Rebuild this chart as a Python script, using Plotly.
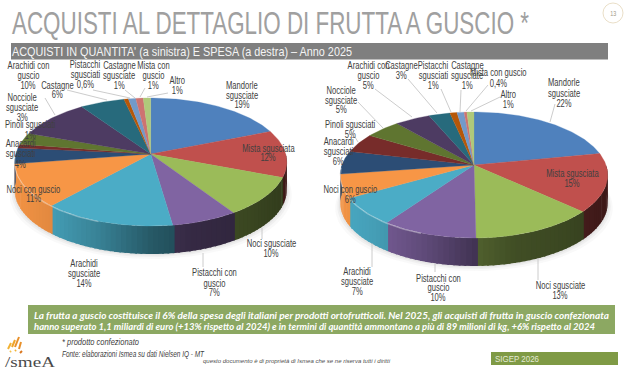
import json
import numpy as np
import plotly.graph_objects as go

# ---------- data ----------
categories = ["Mandorle sgusciate", "Mista sgusciata", "Noci sgusciate", "Pistacchi con guscio",
              "Arachidi sgusciate", "Noci con guscio", "Anacardi sgusciati", "Pinoli sgusciati",
              "Nocciole sgusciate", "Arachidi con guscio", "Castagne", "Pistacchi sgusciati",
              "Castagne sgusciate", "Mista con guscio", "Altro"]
quantita = [19, 12, 10, 7, 14, 11, 4, 1, 3, 10, 6, 0.6, 1, 1, 1]
spesa = [22, 15, 13, 10, 7, 6, 6, 5, 5, 5, 3, 1, 1, 0.4, 1]
quantita_labels = ["19%", "12%", "10%", "7%", "14%", "11%", "4%", "1%", "3%", "10%", "6%", "0,6%", "1%", "1%", "1%"]
spesa_labels = ["22%", "15%", "13%", "10%", "7%", "6%", "6%", "5%", "5%", "5%", "3%", "1%", "1%", "0,4%", "1%"]

# ---------- style / layout ----------
colors = ["#4F81BD", "#C0504D", "#9BBB59", "#8064A2", "#4BACC6", "#F79646", "#2C4D75", "#772C2A",
          "#5F7530", "#4D3B62", "#276A7C", "#B65708", "#729ACA", "#CD7371", "#AFC97A"]
NARROW = "Liberation Sans, Arial, sans-serif"
LBL = "#404040"

left_geo = dict(cx=150.7, cy=154, R=135, A=63, k=0.125, d=28)
right_geo = dict(cx=474, cy=165, R=132, A=61.4, k=0.159, d=28)

name_lines = [["Mandorle", "sgusciate"], ["Mista sgusciata"], ["Noci sgusciate"], ["Pistacchi con", "guscio"],
              ["Arachidi", "sgusciate"], ["Noci con guscio"], ["Anacardi", "sgusciati"], ["Pinoli sgusciati"],
              ["Nocciole", "sgusciate"], ["Arachidi con", "guscio"], ["Castagne"], ["Pistacchi", "sgusciati"],
              ["Castagne", "sgusciate"], ["Mista con", "guscio"], ["Altro"]]
right_name_lines = list(name_lines)
right_name_lines[13] = ["Mista con guscio"]

left_pos = [(242, [85, 95, 104]), (268, [148, 157]), (271, [243, 253]), (214, [272, 283, 292]),
            (84, [263, 273, 283]), (33, [189, 198]), (20, [143, 153, 164]), (30, [124, 135]),
            (22, [97, 107, 117]), (28, [65, 75, 85]), (57, [85, 94]), (85, [64, 74, 84]),
            (119, [65, 75, 85]), (153, [65, 75, 85]), (177, [80, 90])]
right_pos = [(564, [82, 93, 103]), (572, [173, 183]), (560, [285, 295]), (438, [278, 287, 297]),
             (357, [271, 281, 291]), (350, [189, 199]), (338, [141, 151, 161]), (350, [124, 134]),
             (341, [90, 100, 109]), (368, [65, 75, 85]), (401, [65, 75]), (433, [65, 75, 85]),
             (467, [65, 75, 85]), (498, [72, 83]), (508, [94, 104])]

left_leaders = [((45, 98), (55, 115)), ((67, 90), (107, 100)), ((93, 90), (130, 98)), ((125, 90), (135, 98)),
                ((145, 88), (140, 97)), ((168, 93), (147, 97)), ((262, 228), (262, 239)), ((203, 253), (203, 267))]
right_leaders = [((555, 104), (550, 122)), ((358, 102), (383, 128)), ((375, 89), (412, 117)), ((408, 79), (437, 113)),
                 ((441, 89), (451, 112)), ((461, 90), (460, 112)), ((488, 85), (466, 111)), ((500, 97), (471, 111)),
                 ((372, 243), (372, 267)), ((435, 264), (435, 272)), ((538, 258), (538, 280)), ((355, 137), (358, 142))]


def proj(theta_deg, g):
    t = np.radians(np.asarray(theta_deg, dtype=float))
    X, Y = np.sin(t), np.cos(t)
    w = 1 + g["k"] * Y
    return g["cx"] + g["R"] * X / w, g["cy"] - g["A"] * Y / w


def shade(hex_color, f):
    rgb = [int(hex_color[i:i + 2], 16) for i in (1, 3, 5)]
    return "rgb(%d,%d,%d)" % tuple(min(255, int(c * f)) for c in rgb)


fig = go.Figure()


def add_poly(xs, ys, color, opacity=1.0, lw=0.0):
    fig.add_trace(go.Scatter(x=list(xs), y=list(ys), mode="lines", fill="toself", fillcolor=color,
                             line=dict(color=color, width=lw), opacity=opacity, hoverinfo="skip", showlegend=False))


def add_pie(values, g):
    fr = np.array(values, dtype=float)
    edges = np.concatenate([[0], np.cumsum(fr) / fr.sum() * 360])
    th = np.linspace(0, 360, 121)
    for grow, op in [(5, 0.05), (3, 0.07), (1.5, 0.09)]:
        sx, sy = proj(th, g)
        add_poly(g["cx"] + (sx - g["cx"]) * (1 + grow / g["R"]), sy + g["d"] + grow, "#808080", op)
    # side wall: narrow strips, each overlapping the previous one to hide seams
    for i, c in enumerate(colors):
        a, b = max(edges[i], 90), min(edges[i + 1], 270)
        if b <= a:
            continue
        n = max(1, int((b - a) / 2))
        pts = np.linspace(a, b, n + 1)
        for p, q in zip(pts[:-1], pts[1:]):
            x, y = proj([p - 0.7, q], g)
            u = ((x[0] + x[1]) / 2 - g["cx"]) / g["R"]
            f = np.interp(u, [-1, -0.75, -0.4, 0, 0.3, 0.7, 1], [0.98, 0.92, 0.76, 0.52, 0.42, 0.38, 0.32])
            add_poly([x[0], x[1], x[1], x[0]], [y[0], y[1], y[1] + g["d"], y[0] + g["d"]], shade(c, f))
    for i, c in enumerate(colors):
        n = max(2, int(edges[i + 1] - edges[i]) + 1)
        x, y = proj(np.linspace(edges[i], edges[i + 1], n), g)
        add_poly([g["cx"], *x, g["cx"]], [g["cy"], *y, g["cy"]], c, 1.0, 0.3)
    x, y = proj(np.linspace(200, 268, 40), g)
    fig.add_trace(go.Scatter(x=x, y=y + 0.6, mode="lines", line=dict(color="rgba(255,255,255,0.35)", width=1.2),
                             hoverinfo="skip", showlegend=False))


add_pie(quantita, left_geo)
add_pie(spesa, right_geo)

ann = []
widths = {}


def text(x, y, s, size, color=LBL, family=NARROW, xanchor="center", width=None, **font):
    ann.append(dict(x=x, y=y, text=s, xref="x", yref="y", showarrow=False, xanchor=xanchor, align=xanchor,
                    yanchor="middle", font=dict(size=size, color=color, family=family, **font),
                    borderpad=0, borderwidth=0))
    if width:
        widths[s] = width


for lines, pcts, pos in [(name_lines, quantita_labels, left_pos), (right_name_lines, spesa_labels, right_pos)]:
    for nm, pc, (cx, ys) in zip(lines, pcts, pos):
        for s, y in zip(nm + [pc], ys):
            text(cx, y, s, 10)

GREEN1 = ("La frutta a guscio costituisce il 6% della spesa degli italiani per prodotti ortofrutticoli. "
          "Nel 2025, gli acquisti di frutta in guscio confezionata")
GREEN2 = ("hanno superato 1,1 miliardi di euro (+13% rispetto al 2024) e in termini di quantità ammontano "
          "a più di 89 milioni di kg, +6% rispetto al 2024")
text(12, 23, "ACQUISTI AL DETTAGLIO DI FRUTTA A GUSCIO *", 30.5, "#a0a0a0", xanchor="left", width=517)
text(12, 52, "ACQUISTI IN QUANTITA' (a sinistra) E SPESA (a destra) – Anno 2025", 12.6, "#f4f4f4", xanchor="left", width=340)
text(613, 13, "13", 7.5, "#a09a88", width=6)
text(34, 314.5, GREEN1, 10, "#ffffff", "Lato, sans-serif", "left", width=575, weight="bold", style="italic")
text(34, 326, GREEN2, 10, "#ffffff", "Lato, sans-serif", "left", width=561, weight="bold", style="italic")
text(62, 342, "* prodotto confezionato", 9, "#404040", xanchor="left", width=77, style="italic")
text(62, 354, "Fonte: elaborazioni Ismea su dati Nielsen IQ - MT", 8.2, "#404040", xanchor="left", width=142, style="italic")
text(203, 360.5, "questo documento è di proprietà di Ismea che se ne riserva tutti i diritti", 5.8, "#505050",
     xanchor="left", width=187, style="italic")
text(495, 358.5, "SIGEP 2026", 9.5, "#e4ead6", xanchor="left", width=44)
text(5, 361.5, "/smeA", 15, "#4a4a4a", "Liberation Serif, serif", "left", width=50)

shapes = [
    dict(type="rect", x0=11, x1=608, y0=43, y1=59.5, fillcolor="#7f7f7f", line_width=0, layer="below"),
    dict(type="rect", x0=28, x1=615, y0=305, y1=334, fillcolor="#8CA862", line_width=0, layer="below"),
    dict(type="rect", x0=491, x1=618, y0=352, y1=365, fillcolor="#7F9A45", line_width=0, layer="below"),
    dict(type="circle", x0=603, x1=623, y0=3, y1=23, line=dict(color="#EADFC8", width=1), fillcolor="white", layer="below"),
]
for (a, b) in left_leaders + right_leaders:
    shapes.append(dict(type="line", x0=a[0], y0=a[1], x1=b[0], y1=b[1], line=dict(color="#BFBFBF", width=0.8)))
for (x0, y0, x1, y1, c) in [(8, 349, 11, 343, "#F2B233"), (12, 347, 15, 340, "#EFA52B"), (15, 347, 19, 337, "#E8902A"),
                            (19, 349, 21, 342, "#E8902A"), (10, 352, 11, 351, "#F4C14A"), (15, 351, 16, 350, "#F2B233"),
                            (20, 353, 22, 351, "#D9761F")]:
    shapes.append(dict(type="line", x0=x0, y0=y0, x1=x1, y1=y1, line=dict(color=c, width=2)))

fig.update_layout(
    width=626, height=370, margin=dict(l=0, r=0, t=0, b=0), paper_bgcolor="white", plot_bgcolor="white",
    showlegend=False, annotations=ann, shapes=shapes,
    xaxis=dict(range=[0, 626], visible=False, fixedrange=True),
    yaxis=dict(range=[370, 0], visible=False, fixedrange=True),
)

# page margin off; condensed text via SVG textLength (no condensed font is installed)
post = """
document.body.style.margin = '0';
document.documentElement.style.overflow = 'hidden';
const W = %s;
document.querySelectorAll('.annotation-text').forEach(function (t) {
  const s = t.textContent;
  const w = (s in W) ? W[s] : t.getComputedTextLength() * 0.76;
  t.setAttribute('lengthAdjust', 'spacingAndGlyphs');
  t.setAttribute('textLength', w);
});
""" % json.dumps(widths, ensure_ascii=False)
fig.write_html("out.html", config=dict(displayModeBar=False), post_script=post)
